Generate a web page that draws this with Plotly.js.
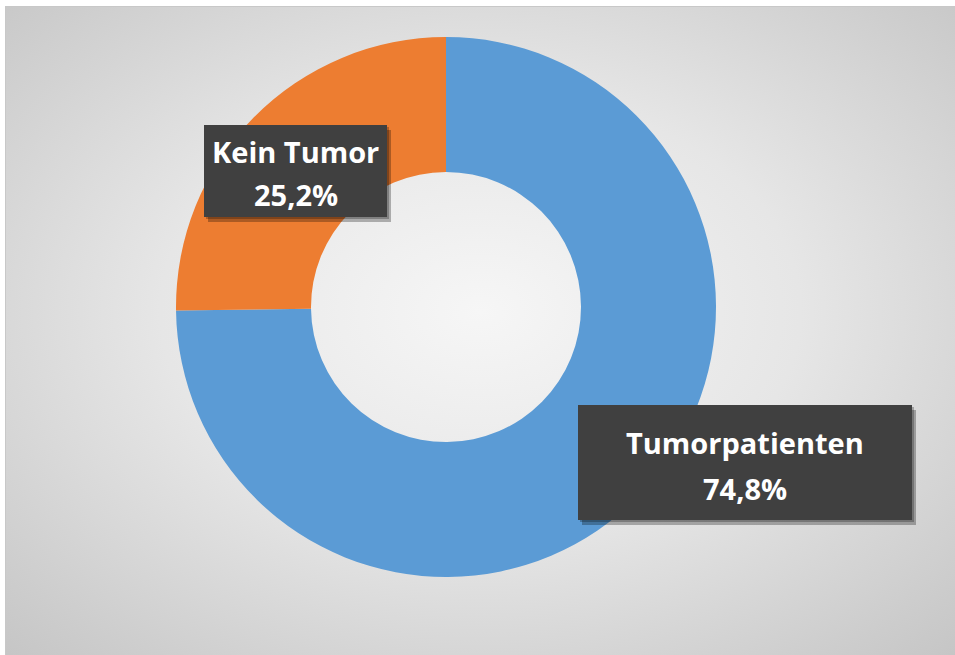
<!DOCTYPE html>
<html>
<head>
<meta charset="utf-8">
<script src="https://cdn.plot.ly/plotly-3.0.1.min.js"></script>
<style>
  html, body { margin: 0; padding: 0; background: #ffffff; }
  #wrap { position: relative; width: 955px; height: 655px; background: #ffffff; }
  #bg { position: absolute; left: 5px; top: 6px; right: 0; bottom: 0;
        border-left: 1px solid #c8c8c8; border-top: 1px solid #c8c8c8;
        background: radial-gradient(ellipse 75% 75% at 50% 47%, #f6f6f6 0%, #e6e6e6 45%, #cdcdcd 85%, #c4c4c4 100%); }
  #chart { position: absolute; left: 0; top: 0; width: 955px; height: 655px; }
</style>
</head>
<body>
<div id="wrap"><div id="bg"></div><div id="chart"></div></div>
<script>
const categories = ["Tumorpatienten", "Kein Tumor"];
const values = [74.8, 25.2];
const valueLabels = ["74,8%", "25,2%"];
const colors = ["#5B9BD5", "#ED7D31"];

const W = 955, H = 655;
const px = x => x / W;
const py = y => 1 - y / H;

const trace = {
  type: "pie",
  labels: categories,
  values: values,
  hole: 0.5,
  sort: false,
  direction: "clockwise",
  rotation: 0,
  marker: { colors: colors, line: { width: 0 } },
  textinfo: "none",
  hoverinfo: "label+percent",
  showlegend: false,
  domain: { x: [px(176), px(716)], y: [py(577), py(37)] }
};

// label boxes (pixel rects) for [Tumorpatienten, Kein Tumor]
const boxes = [
  { x0: 578, x1: 912, y0: 405, y1: 520, line1: 442, line2: 488 },
  { x0: 204, x1: 387, y0: 125, y1: 217, line1: 152, line2: 195 }
];

const shapes = [];
const annotations = [];
boxes.forEach((b, i) => {
  shapes.push({ type: "rect", xref: "paper", yref: "paper",
    x0: px(b.x0 + 4), x1: px(b.x1 + 4), y0: py(b.y1 + 5), y1: py(b.y0 + 5),
    fillcolor: "rgba(0,0,0,0.28)", line: { width: 0 } });
  shapes.push({ type: "rect", xref: "paper", yref: "paper",
    x0: px(b.x0 + 2), x1: px(b.x1 + 2), y0: py(b.y1 + 2), y1: py(b.y0 + 2),
    fillcolor: "rgba(0,0,0,0.25)", line: { width: 0 } });
  shapes.push({ type: "rect", xref: "paper", yref: "paper",
    x0: px(b.x0), x1: px(b.x1), y0: py(b.y1), y1: py(b.y0),
    fillcolor: "#404040", line: { width: 0 } });
  const cx = px((b.x0 + b.x1) / 2);
  annotations.push({ xref: "paper", yref: "paper", x: cx, y: py(b.line1),
    xanchor: "center", yanchor: "middle", showarrow: false,
    text: "<b>" + categories[i] + "</b>",
    font: { family: "Open Sans, Noto Sans, sans-serif", size: 29, color: "#ffffff" } });
  annotations.push({ xref: "paper", yref: "paper", x: cx, y: py(b.line2),
    xanchor: "center", yanchor: "middle", showarrow: false,
    text: "<b>" + valueLabels[i] + "</b>",
    font: { family: "Open Sans, Noto Sans, sans-serif", size: 29, color: "#ffffff" } });
});

const layout = {
  width: W, height: H,
  margin: { l: 0, r: 0, t: 0, b: 0 },
  paper_bgcolor: "rgba(0,0,0,0)",
  plot_bgcolor: "rgba(0,0,0,0)",
  shapes: shapes,
  annotations: annotations
};

Plotly.newPlot("chart", [trace], layout, { displayModeBar: false, staticPlot: false });
</script>
</body>
</html>
